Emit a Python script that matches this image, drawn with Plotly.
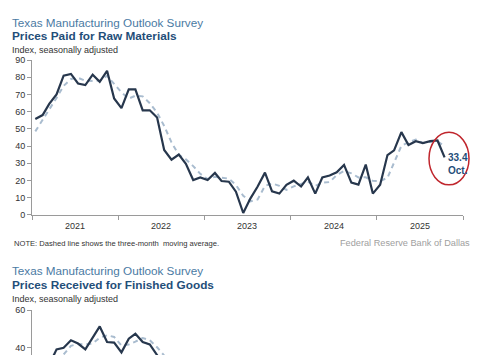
import pandas as pd
import plotly.graph_objects as go

W, H = 485, 360

# ---------------- data ----------------
months = pd.date_range("2021-01-01", periods=58, freq="MS") + pd.Timedelta(days=14)

raw_materials = [55.7, 58.0, 64.5, 70.0, 81.0, 82.0, 76.4, 75.5, 81.5, 77.4, 83.8, 67.7,
                 62.0, 73.0, 73.0, 60.8, 60.8, 56.6, 37.7, 32.0, 35.0, 29.6, 20.2, 21.7,
                 20.2, 24.3, 19.6, 19.2, 13.4, 1.0, 9.4, 16.4, 24.5, 13.6, 12.3, 17.4,
                 19.8, 16.4, 21.7, 12.3, 21.7, 22.8, 24.7, 29.0, 18.7, 17.5, 29.2, 12.3,
                 17.4, 34.7, 37.5, 48.1, 40.6, 42.8, 41.7, 42.8, 43.2, 33.4]
raw_materials_ma = [48.5, 55.0, 61.0, 68.0, 75.0, 79.0, 79.7, 78.0, 77.8, 78.1, 80.9, 76.3,
                    71.2, 67.6, 69.3, 68.9, 64.9, 59.4, 51.7, 42.1, 34.9, 32.2, 28.3, 23.8,
                    20.7, 22.1, 21.4, 21.0, 17.3, 11.0, 7.8, 8.9, 16.8, 18.2, 16.8, 14.4,
                    16.5, 17.9, 19.3, 16.8, 18.6, 19.0, 23.1, 25.5, 24.1, 21.7, 21.8, 19.7,
                    19.6, 21.5, 29.9, 40.1, 42.1, 43.8, 41.7, 42.4, 42.6, 39.9]

finished_goods = [22.0, 26.0, 31.0, 39.2, 40.0, 44.0, 42.3, 39.2, 45.5, 51.4, 43.1, 42.8,
                  37.6, 44.9, 47.5, 43.1, 41.8, 36.0, 30.0, 25.0]
finished_goods_ma = [18.0, 21.0, 26.0, 32.0, 36.7, 41.1, 42.1, 41.8, 42.3, 45.4, 46.7, 45.8,
                     41.2, 41.8, 43.3, 45.2, 44.1, 40.3, 35.9, 30.3]

last_label = "Oct."
year_ticks = ["2021-01-01", "2022-01-01", "2023-01-01", "2024-01-01", "2025-01-01", "2026-01-01"]

# ---------------- helpers ----------------
def px_x(p):
    return p / W

def px_y(p):
    return 1 - p / H

FONT = "Arial, Liberation Sans, sans-serif"
SOLID = "#27374d"
DASH = "#a9bccf"
AXIS = "#9a9a9a"
NAVY = "#1f4e79"
LIGHTBLUE = "#4a7aa3"

fig = go.Figure()

# top chart
fig.add_trace(go.Scatter(x=months, y=raw_materials_ma, mode="lines",
                         line=dict(color=DASH, width=2, dash="5px,4px"),
                         xaxis="x", yaxis="y", hoverinfo="skip"))
fig.add_trace(go.Scatter(x=months, y=raw_materials, mode="lines",
                         line=dict(color=SOLID, width=2.2),
                         xaxis="x", yaxis="y"))

# bottom chart (cut off by the window)
fm = months[:len(finished_goods)]
fig.add_trace(go.Scatter(x=fm, y=finished_goods_ma, mode="lines",
                         line=dict(color=DASH, width=2, dash="5px,4px"),
                         xaxis="x2", yaxis="y2", hoverinfo="skip"))
fig.add_trace(go.Scatter(x=fm, y=finished_goods, mode="lines",
                         line=dict(color=SOLID, width=2.2),
                         xaxis="x2", yaxis="y2"))

xdom = [px_x(32), px_x(463)]
xrange = ["2021-01-01", "2026-01-01"]

fig.update_layout(
    width=W, height=H, autosize=False,
    margin=dict(l=0, r=0, t=0, b=0),
    paper_bgcolor="white", plot_bgcolor="white",
    showlegend=False,
    font=dict(family=FONT, color="#333333", size=9),
    xaxis=dict(domain=xdom, type="date", range=xrange,
               tickvals=year_ticks, ticks="outside", ticklen=4, tickcolor=AXIS,
               showticklabels=False,
               showline=True, linecolor=AXIS, linewidth=1, showgrid=False, zeroline=False,
               anchor="y"),
    yaxis=dict(domain=[px_y(215.7), px_y(56.7)], range=[0, 90], dtick=10,
               ticks="outside", ticklen=4, tickcolor=AXIS,
               showline=True, linecolor=AXIS, linewidth=1, showgrid=False, zeroline=False,
               tickfont=dict(size=9, color="#333333"), anchor="x"),
    xaxis2=dict(domain=xdom, type="date", range=xrange, visible=False, anchor="y2"),
    yaxis2=dict(domain=[0, px_y(314)], range=[36.2, 60], tickvals=[40, 60],
                ticks="outside", ticklen=4, tickcolor=AXIS,
                showline=True, linecolor=AXIS, linewidth=1, showgrid=False, zeroline=False,
                tickfont=dict(size=9, color="#333333"), anchor="x2"),
)

# year labels (centered in each year period)
for i in range(len(year_ticks) - 1):
    mid = pd.Timestamp(year_ticks[i]) + (pd.Timestamp(year_ticks[i + 1]) - pd.Timestamp(year_ticks[i])) / 2
    fig.add_annotation(x=mid, y=0, xref="x", yref="y", text=year_ticks[i][:4],
                       showarrow=False, yanchor="top", yshift=-4,
                       font=dict(size=9, color="#333333"))

def text(x, y, t, size, color, bold=False, xanchor="left"):
    fig.add_annotation(x=px_x(x), y=px_y(y), xref="paper", yref="paper",
                       text=f"<b>{t}</b>" if bold else t, showarrow=False,
                       xanchor=xanchor, yanchor="middle",
                       font=dict(size=size, color=color, family=FONT))

# top chart texts
text(10, 18, "Texas Manufacturing Outlook Survey", 11.7, LIGHTBLUE)
text(10, 32, "Prices Paid for Raw Materials", 11.8, NAVY, bold=True)
text(10, 46, "Index, seasonally adjusted", 9, "#333333")
text(12, 245, "NOTE: Dashed line shows the three-month  moving average.", 7.6, "#333333")
text(472, 245, "Federal Reserve Bank of Dallas", 9.2, "#a0a0a0", xanchor="right")

# bottom chart texts
text(10, 273, "Texas Manufacturing Outlook Survey", 11.7, LIGHTBLUE)
text(10, 288, "Prices Received for Finished Goods", 11.8, NAVY, bold=True)
text(10, 302, "Index, seasonally adjusted", 9, "#333333")

# latest value callout
fig.add_annotation(x=months[-1], y=raw_materials[-1], xref="x", yref="y",
                   text=f"<b>{raw_materials[-1]}<br>{last_label}</b>", showarrow=False,
                   xanchor="left", yanchor="top", yshift=7, xshift=1, align="right",
                   font=dict(size=10, color=NAVY, family=FONT))
fig.add_shape(type="circle", xref="paper", yref="paper",
              x0=px_x(429), x1=px_x(469), y0=px_y(185), y1=px_y(131),
              line=dict(color="#c0262d", width=1.5))

fig.write_html("out.html", config={"displayModeBar": False},
               post_script="document.body.style.margin='0px';document.body.style.overflow='hidden';")
